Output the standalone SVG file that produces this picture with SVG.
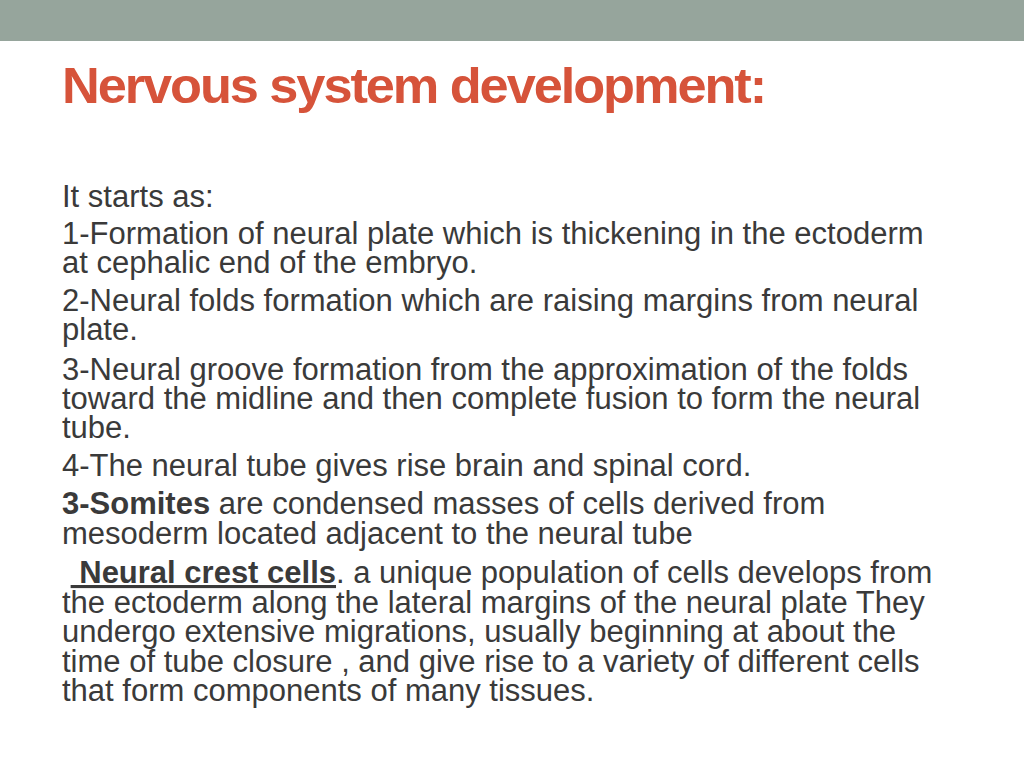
<svg xmlns="http://www.w3.org/2000/svg" width="1024" height="768" viewBox="0 0 1024 768">
<style>
.t{font-family:"Liberation Sans",Arial,sans-serif;font-size:31px;fill:#3a3a3a}
.b{font-weight:bold}
</style>
<rect width="1024" height="768" fill="#fff"/>
<rect width="1024" height="41" fill="#96A59C"/>
<text x="62" y="103" font-family="Liberation Sans,Arial,sans-serif" font-weight="bold" font-size="50" fill="#D6533A" textLength="703" lengthAdjust="spacingAndGlyphs" letter-spacing="-2">Nervous system development:</text>
<g class="t">
<text x="62" y="207">It starts as:</text>
<text x="62" y="244">1-Formation of neural plate which is thickening in the ectoderm</text>
<text x="62" y="273">at cephalic end of the embryo.</text>
<text x="62" y="311">2-Neural folds formation which are raising margins from neural</text>
<text x="62" y="340">plate.</text>
<text x="62" y="380">3-Neural groove formation from the approximation of the folds</text>
<text x="62" y="409">toward the midline and then complete fusion to form the neural</text>
<text x="62" y="438">tube.</text>
<text x="62" y="476">4-The neural tube gives rise brain and spinal cord.</text>
<text x="62" y="514"><tspan class="b">3-Somites</tspan> are condensed masses of cells derived from</text>
<text x="62" y="544">mesoderm located adjacent to the neural tube</text>
<text x="62" y="583" xml:space="preserve"> <tspan class="b" text-decoration="underline" xml:space="preserve"> Neural crest cells</tspan>. a unique population of cells develops from</text>
<text x="62" y="613">the ectoderm along the lateral margins of the neural plate They</text>
<text x="62" y="642">undergo extensive migrations, usually beginning at about the</text>
<text x="62" y="672">time of tube closure , and give rise to a variety of different cells</text>
<text x="62" y="701">that form components of many tissues.</text>
</g>
</svg>
